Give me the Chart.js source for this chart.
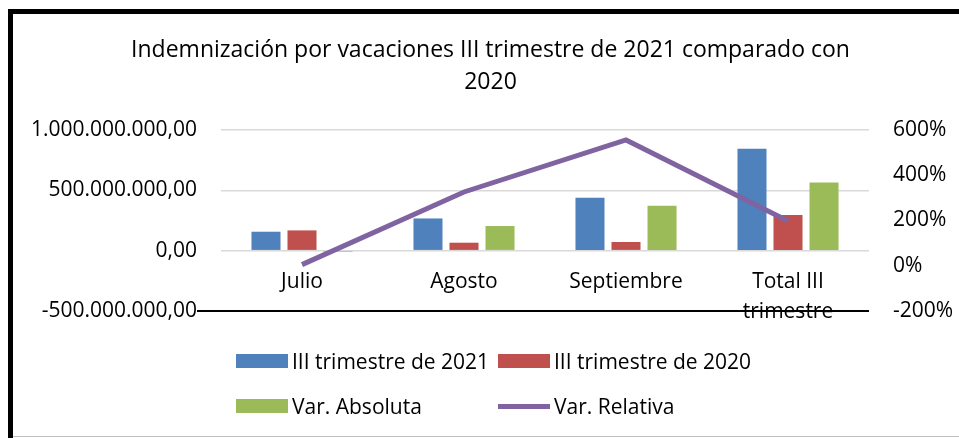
<!DOCTYPE html>
<html>
<head>
<meta charset="utf-8">
<script src="https://cdn.jsdelivr.net/npm/chart.js@4.4.1/dist/chart.umd.min.js"></script>
<style>
  body { margin: 0; background: #fff; }
  #wrap { position: relative; width: 959px; height: 438px; overflow: hidden; }
  #c { position: absolute; left: 0; top: 0; }
  .bl { position: absolute; left: 8px; top: 9px; width: 5px; height: 429px; background: #000; }
  .bt { position: absolute; left: 8px; top: 9px; width: 951px; height: 5px; background: #000; }
  .bb { position: absolute; left: 13px; top: 436px; width: 946px; height: 1px; background: #bfbfbf; }
  #legend { position: absolute; left: 236px; top: 349px; display: grid;
            grid-template-columns: 262px auto; grid-auto-rows: 45px;
            font-family: "Open Sans", sans-serif; font-size: 21px; color: #000; }
  #legend div { display: flex; align-items: center; height: 24px; white-space: nowrap; }
  #legend span.sw { display: inline-block; width: 52px; margin-right: 4px; }
</style>
</head>
<body>
<div id="wrap">
  <canvas id="c" width="959" height="438"></canvas>
  <div class="bl"></div><div class="bt"></div><div class="bb"></div>
  <div id="legend"></div>
</div>
<script>
const categories = ['Julio', 'Agosto', 'Septiembre', ['Total III', 'trimestre']];
const trimestre2021 = [157e6, 267e6, 438e6, 845e6];
const trimestre2020 = [168e6, 66e6, 72e6, 295e6];
const varAbsoluta = [-11e6, 204e6, 372e6, 564e6];
const varRelativa = [5, 326, 556, 198];
const seriesNames = ['III trimestre de 2021', 'III trimestre de 2020', 'Var. Absoluta', 'Var. Relativa'];
const titleLines = ['Indemnización por vacaciones III trimestre de 2021 comparado con', '2020'];

const FONT = 'Open Sans';

function fmtMoney(v) {
  var neg = v < 0;
  var s = Math.abs(Math.round(v)).toString();
  var out = '';
  while (s.length > 3) {
    out = '.' + s.slice(-3) + out;
    s = s.slice(0, -3);
  }
  return (neg ? '-' : '') + s + out + ',00';
}

// black line at the bottom of the value axis, drawn a bit past the plot on the left
const axisLine = {
  id: 'axisLine',
  afterDraw(chart) {
    var c = chart.ctx, a = chart.chartArea;
    var y = chart.scales.y.getPixelForValue(-5e8);
    c.save();
    c.strokeStyle = '#000';
    c.lineWidth = 2;
    c.beginPath();
    c.moveTo(a.left - 24, y);
    c.lineTo(a.right, y);
    c.stroke();
    c.restore();
  }
};

const chart = new Chart(document.getElementById('c'), {
  type: 'bar',
  data: {
    labels: categories,
    datasets: [
      { label: seriesNames[0], data: trimestre2021, backgroundColor: '#4F81BD', yAxisID: 'y', order: 2 },
      { label: seriesNames[1], data: trimestre2020, backgroundColor: '#C0504D', yAxisID: 'y', order: 2 },
      { label: seriesNames[2], data: varAbsoluta, backgroundColor: '#9BBB59', yAxisID: 'y', order: 2 },
      { type: 'line', label: seriesNames[3], data: varRelativa, borderColor: '#8064A2', backgroundColor: '#8064A2',
        borderWidth: 5, pointRadius: 0, tension: 0, yAxisID: 'y1', order: 1 }
    ]
  },
  options: {
    responsive: false,
    animation: false,
    layout: { padding: { left: 22, right: 0, top: 0, bottom: 127 } },
    datasets: { bar: { categoryPercentage: 0.667, barPercentage: 0.806 } },
    plugins: {
      legend: { display: false },
      tooltip: { enabled: false },
      title: {
        display: true,
        text: titleLines,
        color: '#000',
        font: { family: FONT, size: 23, weight: 'normal', lineHeight: 32 / 23 },
        padding: { top: 34, bottom: 32 }
      }
    },
    scales: {
      x: {
        grid: { display: false, drawTicks: false },
        border: { display: false },
        ticks: { color: '#000', font: { family: FONT, size: 21, lineHeight: 30 / 21 }, mirror: true, padding: 14,
                 maxRotation: 0, autoSkip: false },
        afterFit(s) { s.height = 0; }
      },
      y: {
        position: 'left',
        min: -5e8, max: 1e9,
        ticks: { stepSize: 5e8, callback: fmtMoney, padding: 24, color: '#000', font: { family: FONT, size: 21 } },
        grid: { drawTicks: false, lineWidth: 1.5, color: (ctx) => ctx.tick && ctx.tick.value === -5e8 ? 'rgba(0,0,0,0)' : '#d9d9d9' },
        border: { display: false },
        afterFit(s) { s.width = 199; }
      },
      y1: {
        position: 'right',
        min: -200, max: 600,
        ticks: { stepSize: 200, callback: (v) => v + '%', padding: 24, color: '#000', font: { family: FONT, size: 21 } },
        grid: { display: false, drawTicks: false },
        border: { display: false },
        afterFit(s) { s.width = 90; }
      }
    }
  },
  plugins: [axisLine]
});

// legend laid out as a two-column grid, like the original
var lg = document.getElementById('legend');
chart.data.datasets.forEach(function (ds) {
  var d = document.createElement('div');
  var sw = document.createElement('span');
  sw.className = 'sw';
  sw.style.background = ds.type === 'line' ? ds.borderColor : ds.backgroundColor;
  sw.style.height = ds.type === 'line' ? '5px' : '14px';
  d.appendChild(sw);
  d.appendChild(document.createTextNode(ds.label));
  lg.appendChild(d);
});
</script>
</body>
</html>
